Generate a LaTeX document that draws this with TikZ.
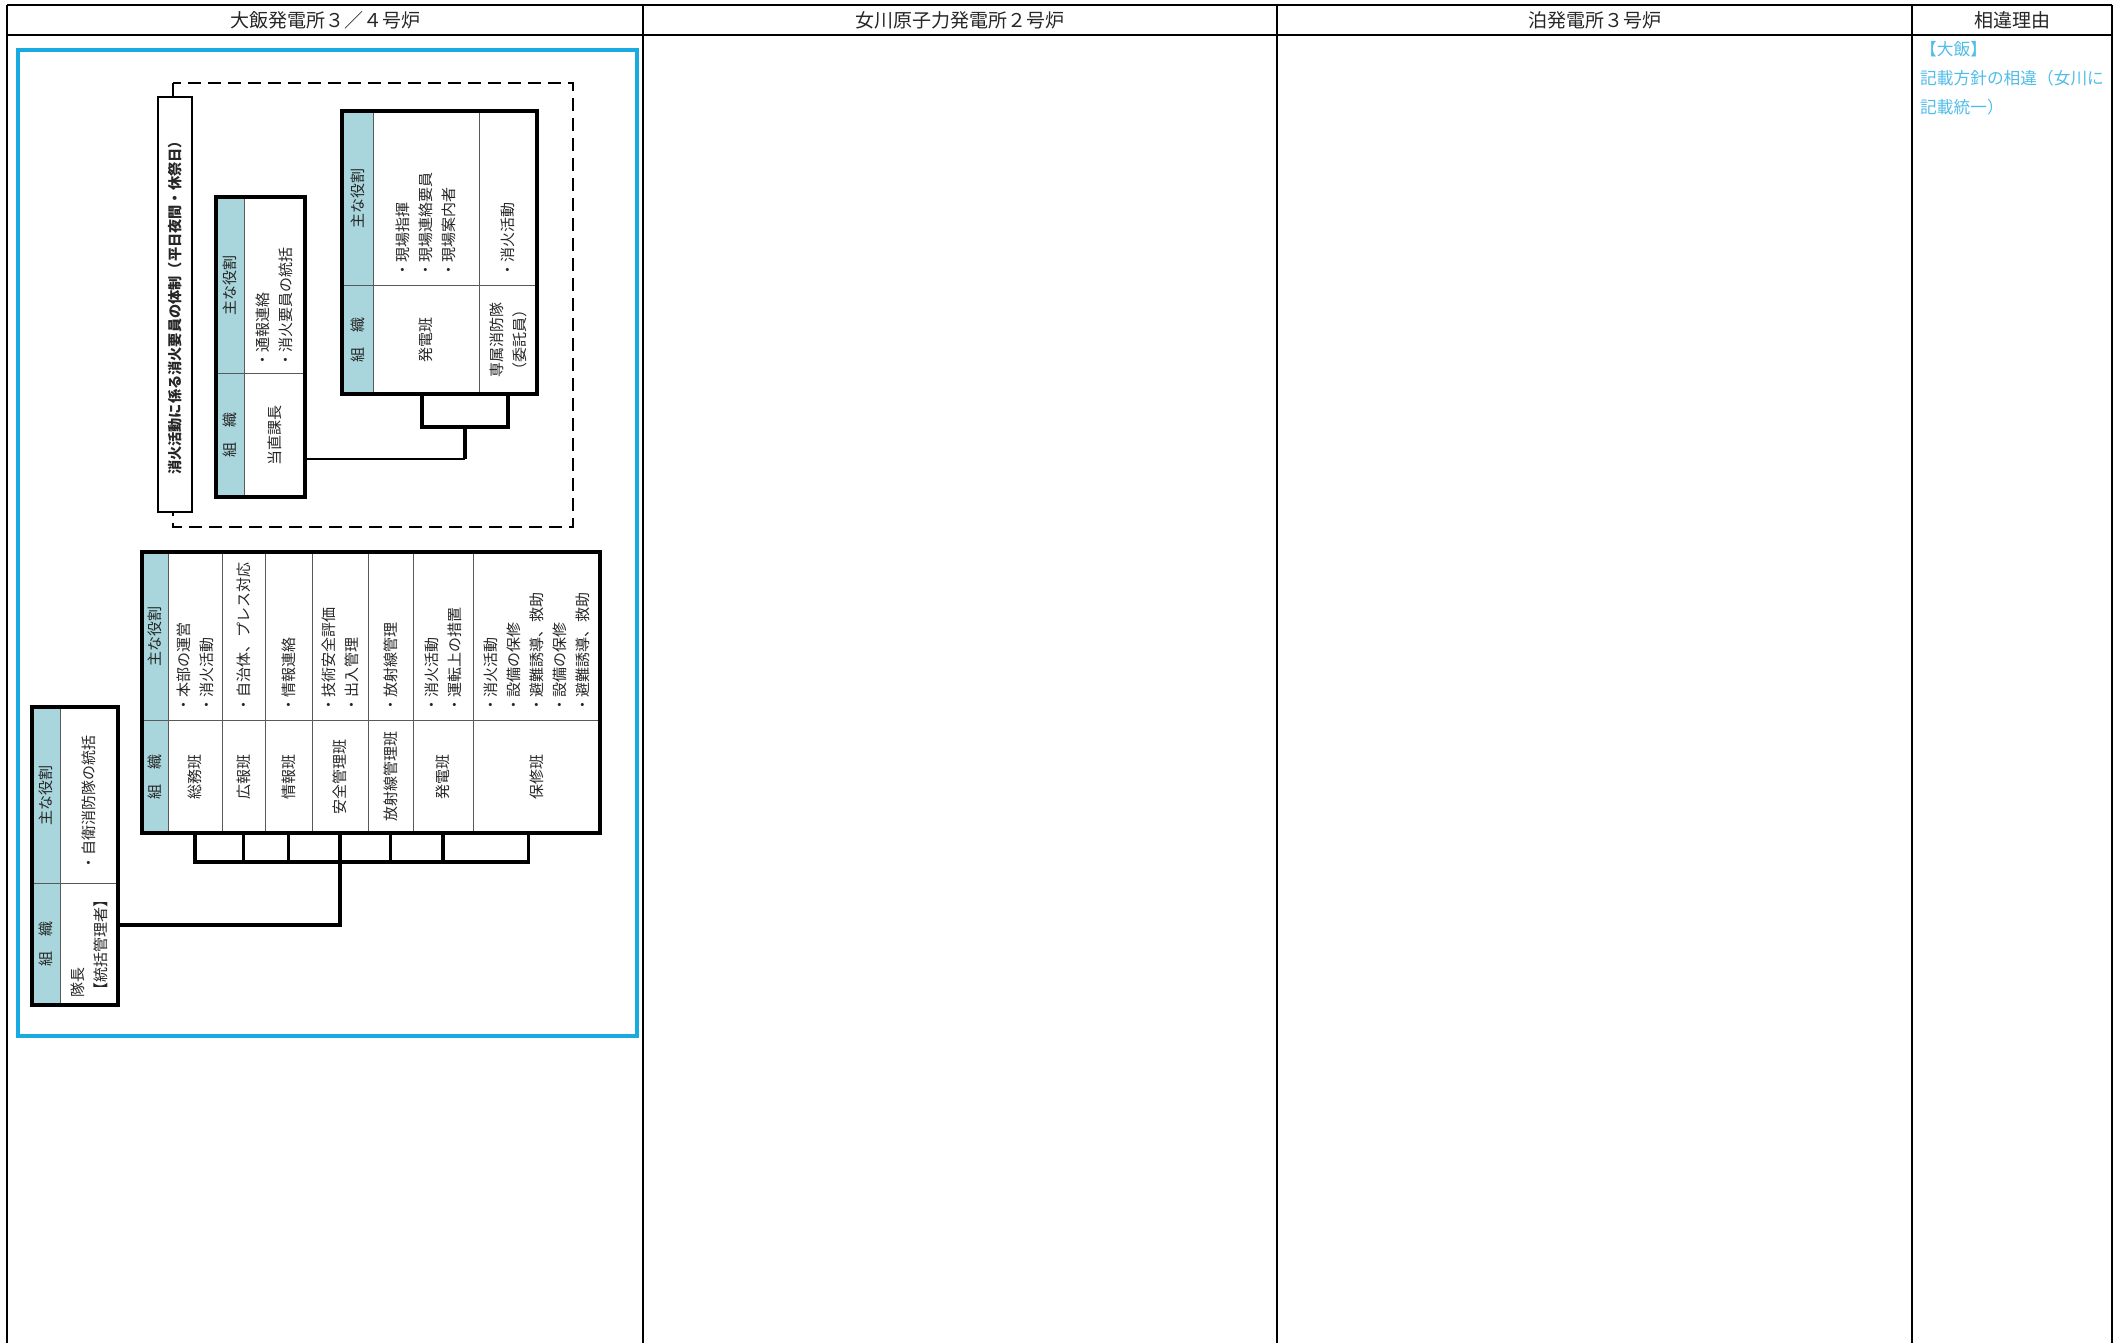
\documentclass[tikz,border=0pt]{standalone}
\usepackage{fontspec}
\setmainfont{Noto Sans CJK JP}
\usepackage{tikz}
\definecolor{hdr-blue}{RGB}{168, 214, 220}
\definecolor{frame-cyan}{RGB}{25, 170, 225}
\definecolor{note-cyan}{RGB}{80, 188, 232}

\begin{document}
\begin{tikzpicture}[
            x=1pt, y=-1pt,
            every node/.style={inner sep=0pt, text=black!85, font=\fontsize{15}{23}\selectfont},
            cell/.style={draw=black!65, line width=0.8pt, rotate=90, align=left},
            hdr/.style={cell, fill=hdr-blue, align=center},
            org/.style={cell, align=center},
            frame/.style={draw, line width=3.5pt},
            link/.style={line width=3.8pt},
            colhead/.style={font=\fontsize{19}{22}\selectfont},
            note/.style={anchor=north west, align=left, text=note-cyan, font=\fontsize{16.7}{29}\selectfont},
        ]
            \useasboundingbox (0,0) rectangle (2121,1343);

            % comparison table
            \draw[line width=2.5pt] (7,5) -- (2112,5);
            \draw[line width=2.5pt] (7,35) -- (2112,35);
            \draw[line width=1.5pt] (7,5) -- (7,1343);
            \draw[line width=1.8pt] (643,5) -- (643,1343);
            \draw[line width=1.5pt] (1277,5) -- (1277,1343);
            \draw[line width=1.5pt] (1912,5) -- (1912,1343);
            \draw[line width=2.5pt] (2112,5) -- (2112,1343);
            \node[colhead] (ohi) at (325,20) {大飯発電所３／４号炉};
            \node[colhead] (onagawa) at (960,20) {女川原子力発電所２号炉};
            \node[colhead] (tomari) at (1595,20) {泊発電所３号炉};
            \node[colhead] (reason) at (2012,20) {相違理由};
            \node[note] (reasonnote) at (1920,41) {【大飯】\\記載方針の相違（女川に\\記載統一）};

            % highlighted area
            \draw[frame-cyan, line width=3.5pt] (18,50) rectangle (637,1036);

            % night and holiday fire crew
            \draw[line width=2.8pt, dash pattern=on 13pt off 7pt] (173,83) rectangle (573,527);
            \node[draw, line width=1.2pt, fill=white, rotate=90, minimum width=415pt, minimum height=34pt,
                  font=\bfseries\fontsize{14.2}{16}\selectfont] (title) at (175,304.5)
                  {消火活動に係る消火要員の体制（平日夜間・休祭日）};

            \node[hdr, minimum width=176pt, minimum height=28pt, text width=176pt] (tochoHR) at (230,285) {主な役割};
            \node[hdr, minimum width=124pt, minimum height=28pt, text width=124pt] (tochoHO) at (230,435) {組　織};
            \node[cell, minimum width=176pt, minimum height=61pt, text width=165pt] (tochoR) at (274.5,285) {・通報連絡\\・消火要員の統括};
            \node[org, minimum width=124pt, minimum height=61pt, text width=124pt] (tochoO) at (274.5,435) {当直課長};
            \draw[frame] (216,197) rectangle (305,497);

            \node[hdr, minimum width=174pt, minimum height=31pt, text width=174pt] (genbaHR) at (357.5,198) {主な役割};
            \node[hdr, minimum width=109pt, minimum height=31pt, text width=109pt] (genbaHO) at (357.5,339.5) {組　織};
            \node[cell, minimum width=174pt, minimum height=106pt, text width=159pt] (hatsuR) at (426,198) {・現場指揮\\・現場連絡要員\\・現場案内者};
            \node[cell, minimum width=174pt, minimum height=58pt, text width=159pt] (senzokuR) at (508,198) {・消火活動};
            \node[org, minimum width=109pt, minimum height=106pt, text width=109pt] (hatsuO) at (426,339.5) {発電班};
            \node[org, minimum width=109pt, minimum height=58pt, text width=109pt] (senzokuO) at (508,339.5) {専属消防隊\\（委託員）};
            \draw[frame] (342,111) rectangle (537,394);

            \coordinate (jbus) at (465,427);
            \draw[link] ([xshift=-4pt]hatsuO.west) -- ([xshift=-4pt]hatsuO.west |- jbus) -- (senzokuO.west |- jbus) -- (senzokuO.west);
            \draw[link] (jbus) -- (jbus |- 0,459);
            \draw[line width=1.6pt] (jbus |- 0,459) -- (tochoO.south |- 0,459);

            % fire brigade headquarters
            \node[hdr, minimum width=168pt, minimum height=26pt, text width=168pt] (mainHR) at (155,636) {主な役割};
            \node[hdr, minimum width=113pt, minimum height=26pt, text width=113pt] (mainHO) at (155,776.5) {組　織};
            \node[cell, minimum width=168pt, minimum height=54pt, text width=153pt] (soumuR) at (195,636) {・本部の運営\\・消火活動};
            \node[cell, minimum width=168pt, minimum height=43pt, text width=153pt] (kouhouR) at (243.5,636) {・自治体、プレス対応};
            \node[cell, minimum width=168pt, minimum height=47pt, text width=153pt] (jouhouR) at (288.5,636) {・情報連絡};
            \node[cell, minimum width=168pt, minimum height=56pt, text width=153pt] (anzenR) at (340,636) {・技術安全評価\\・出入管理};
            \node[cell, minimum width=168pt, minimum height=45pt, text width=153pt] (houshaR) at (390.5,636) {・放射線管理};
            \node[cell, minimum width=168pt, minimum height=60pt, text width=153pt] (hatsudenR) at (443,636) {・消火活動\\・運転上の措置};
            \node[cell, minimum width=168pt, minimum height=127pt, text width=153pt] (hoshuR) at (536.5,636)
                 {・消火活動\\・設備の保修\\・避難誘導、救助\\・設備の保修\\・避難誘導、救助};
            \node[org, minimum width=113pt, minimum height=54pt, text width=113pt] (soumuO) at (195,776.5) {総務班};
            \node[org, minimum width=113pt, minimum height=43pt, text width=113pt] (kouhouO) at (243.5,776.5) {広報班};
            \node[org, minimum width=113pt, minimum height=47pt, text width=113pt] (jouhouO) at (288.5,776.5) {情報班};
            \node[org, minimum width=113pt, minimum height=56pt, text width=113pt] (anzenO) at (340,776.5) {安全管理班};
            \node[org, minimum width=113pt, minimum height=45pt, text width=113pt] (houshaO) at (390.5,776.5) {放射線管理班};
            \node[org, minimum width=113pt, minimum height=60pt, text width=113pt] (hatsudenO) at (443,776.5) {発電班};
            \node[org, minimum width=113pt, minimum height=127pt, text width=113pt] (hoshuO) at (536.5,776.5) {保修班};
            \draw[frame] (142,552) rectangle (600,833);

            % commander
            \node[hdr, minimum width=176pt, minimum height=28pt, text width=176pt] (taichoHR) at (46,795) {主な役割};
            \node[hdr, minimum width=122pt, minimum height=28pt, text width=122pt] (taichoHO) at (46,944) {組　織};
            \node[cell, minimum width=176pt, minimum height=58pt, text width=151pt] (taichoR) at (89,795) {・自衛消防隊の統括};
            \node[cell, minimum width=122pt, minimum height=58pt, text width=106pt] (taichoO) at (89,944) {隊長\\【統括管理者】};
            \draw[frame] (32,707) rectangle (118,1005);

            \coordinate (mbus) at (340,862);
            \coordinate (tin) at (118,925);
            \draw[link] (soumuO.west) -- (soumuO.west |- mbus) -- ([xshift=-8pt]hoshuO.west |- mbus) -- ([xshift=-8pt]hoshuO.west);
            \draw[link] (kouhouO.west) -- (kouhouO.west |- mbus);
            \draw[link] (jouhouO.west) -- (jouhouO.west |- mbus);
            \draw[link] (houshaO.west) -- (houshaO.west |- mbus);
            \draw[link] (hatsudenO.west) -- (hatsudenO.west |- mbus);
            \draw[link] (anzenO.west) -- (anzenO.west |- tin) -- (tin);
        \end{tikzpicture}
\end{document}
